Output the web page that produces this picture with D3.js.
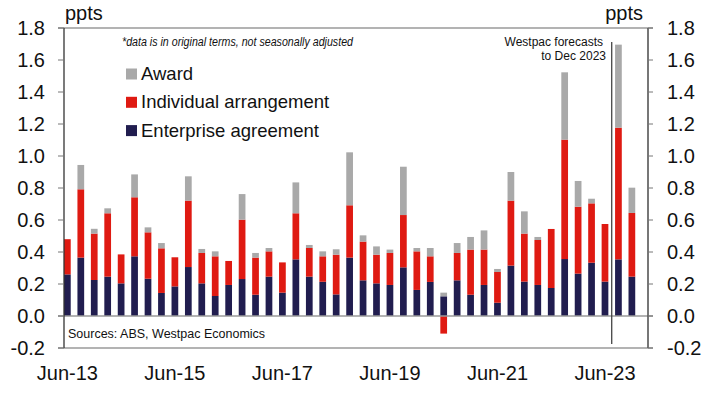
<!DOCTYPE html>
<html>
<head>
<meta charset="utf-8">
<script src="https://cdn.jsdelivr.net/npm/d3@7"></script>
<style>
  body { margin: 0; background: #fff; }
  svg { display: block; font-family: "Liberation Sans", Arial, sans-serif; }
</style>
</head>
<body>
<div id="chart"></div>
<script>
// Datos ---------------------------------------------------------------------------------------
const quarters = [
  "Jun-13","Sep-13","Dec-13","Mar-14","Jun-14","Sep-14","Dec-14","Mar-15","Jun-15","Sep-15","Dec-15",
  "Mar-16","Jun-16","Sep-16","Dec-16","Mar-17","Jun-17","Sep-17","Dec-17","Mar-18","Jun-18","Sep-18",
  "Dec-18","Mar-19","Jun-19","Sep-19","Dec-19","Mar-20","Jun-20","Sep-20","Dec-20","Mar-21","Jun-21",
  "Sep-21","Dec-21","Mar-22","Jun-22","Sep-22","Dec-22","Mar-23","Jun-23","Sep-23","Dec-23"
];
const enterprise = [0.26, 0.365, 0.225, 0.246, 0.204, 0.373, 0.233, 0.144, 0.185, 0.306, 0.204,
  0.125, 0.194, 0.231, 0.133, 0.246, 0.146, 0.354, 0.246, 0.214, 0.135, 0.365,
  0.223, 0.204, 0.194, 0.304, 0.163, 0.213, 0.123, 0.223, 0.133, 0.194, 0.083,
  0.315, 0.215, 0.194, 0.175, 0.356, 0.265, 0.333, 0.215, 0.354, 0.246];
const individual = [0.22, 0.427, 0.29, 0.396, 0.181, 0.369, 0.29, 0.279, 0.182, 0.415, 0.19,
  0.248, 0.15, 0.371, 0.232, 0.158, 0.189, 0.288, 0.179, 0.159, 0.248, 0.327,
  0.242, 0.179, 0.2, 0.327, 0.241, 0.16, -0.11, 0.171, 0.282, 0.221, 0.192,
  0.406, 0.3, 0.281, 0.369, 0.746, 0.418, 0.371, 0.36, 0.823, 0.398];
const award = [0, 0.152, 0.03, 0.031, 0, 0.143, 0.031, 0.033, 0, 0.152, 0.025,
  0.031, 0, 0.16, 0.029, 0.021, 0, 0.193, 0.019, 0.031, 0.034, 0.331,
  0.039, 0.052, 0.021, 0.302, 0.021, 0.052, 0.023, 0.062, 0.079, 0.12, 0.019,
  0.179, 0.139, 0.019, 0, 0.421, 0.161, 0.029, 0, 0.519, 0.158];
const seriesNames = ["Enterprise agreement", "Individual arrangement", "Award"];
const seriesColors = ["#211d4f", "#df1a12", "#a9a9a9"];
const xTickLabels = ["Jun-13", "Jun-15", "Jun-17", "Jun-19", "Jun-21", "Jun-23"];
const yTicks = [-0.2, 0, 0.2, 0.4, 0.6, 0.8, 1.0, 1.2, 1.4, 1.6, 1.8];
const forecastStart = "Sep-23";

// Dimensiones ---------------------------------------------------------------------------------
const WIDTH = 711;
const HEIGHT = 394;
const LEFT = 64;
const RIGHT = 648;
const TOP = 28;
const BOTTOM = 348;

const SVG = d3.select("#chart").append("svg").attr("width", WIDTH).attr("height", HEIGHT);

const x = d3.scaleLinear().domain([-0.25, quarters.length + 0.2]).range([LEFT, RIGHT]);
const y = d3.scaleLinear().domain([-0.2, 1.8]).range([BOTTOM, TOP]);
const barW = (x(1) - x(0)) * 0.5;
const fmt = d => d3.format(".1f")(d).replace("−", "-");

// Tabla para el stack
const tabla = quarters.map((q, i) => ({
  q: q, i: i,
  "Enterprise agreement": enterprise[i],
  "Individual arrangement": individual[i],
  "Award": award[i]
}));
const stack = d3.stack().keys(seriesNames).offset(d3.stackOffsetDiverging)(tabla);

// Barras
SVG.selectAll("g.serie")
  .data(stack)
  .enter()
  .append("g")
  .attr("class", "serie")
  .attr("fill", (d, k) => seriesColors[k])
  .selectAll("rect")
  .data(d => d)
  .enter()
  .append("rect")
  .attr("x", d => Math.max(LEFT, x(d.data.i) - barW / 2))
  .attr("width", d => x(d.data.i) + barW / 2 - Math.max(LEFT, x(d.data.i) - barW / 2))
  .attr("y", d => y(Math.max(d[0], d[1])))
  .attr("height", d => Math.abs(y(d[0]) - y(d[1])));

// Lineas horizontales (borde superior, cero, borde inferior)
SVG.selectAll("line.hline")
  .data([1.8, 0, -0.2])
  .enter()
  .append("line")
  .attr("class", "hline")
  .attr("x1", LEFT - 6).attr("x2", RIGHT + 5)
  .attr("y1", d => y(d)).attr("y2", d => y(d))
  .attr("stroke", "#9a9a9a").attr("stroke-width", 1.5);

// Ejes verticales y ticks
SVG.append("line").attr("x1", LEFT).attr("x2", LEFT).attr("y1", TOP).attr("y2", BOTTOM)
  .attr("stroke", "#333").attr("stroke-width", 1.3);
SVG.append("line").attr("x1", RIGHT).attr("x2", RIGHT).attr("y1", TOP).attr("y2", BOTTOM)
  .attr("stroke", "#555").attr("stroke-width", 1.6);

SVG.selectAll("line.tickL")
  .data(yTicks)
  .enter()
  .append("line")
  .attr("class", "tickL")
  .attr("x1", LEFT - 6).attr("x2", LEFT)
  .attr("y1", d => y(d)).attr("y2", d => y(d))
  .attr("stroke", "#777");
SVG.selectAll("line.tickR")
  .data(yTicks)
  .enter()
  .append("line")
  .attr("class", "tickR")
  .attr("x1", RIGHT).attr("x2", RIGHT + 5)
  .attr("y1", d => y(d)).attr("y2", d => y(d))
  .attr("stroke", "#777");

// Etiquetas eje y
SVG.selectAll("text.yL")
  .data(yTicks)
  .enter()
  .append("text")
  .attr("class", "yL")
  .attr("x", 45)
  .attr("y", d => y(d) + 7)
  .attr("text-anchor", "end")
  .attr("font-size", "20px")
  .attr("fill", "#111")
  .text(fmt);
SVG.selectAll("text.yR")
  .data(yTicks)
  .enter()
  .append("text")
  .attr("class", "yR")
  .attr("x", 667)
  .attr("y", d => y(d) + 7)
  .attr("font-size", "20px")
  .attr("fill", "#111")
  .text(fmt);

// Etiquetas eje x
SVG.selectAll("text.xlab")
  .data(xTickLabels)
  .enter()
  .append("text")
  .attr("class", "xlab")
  .attr("x", d => x(quarters.indexOf(d)))
  .attr("y", 380)
  .attr("text-anchor", "middle")
  .attr("font-size", "20px")
  .attr("fill", "#111")
  .text(d => d);

// Unidades
SVG.append("text").attr("x", 65).attr("y", 20).attr("font-size", "20px").attr("fill", "#111").text("ppts");
SVG.append("text").attr("x", 643).attr("y", 20).attr("text-anchor", "end").attr("font-size", "20px").attr("fill", "#111").text("ppts");

// Notas
SVG.append("text").attr("x", 122).attr("y", 46).attr("font-size", "12px").attr("font-style", "italic")
  .attr("textLength", 231).attr("lengthAdjust", "spacingAndGlyphs")
  .attr("fill", "#111").text("*data is in original terms, not seasonally adjusted");
SVG.append("text").attr("x", 68).attr("y", 338).attr("font-size", "12.5px")
  .attr("fill", "#111").text("Sources: ABS, Westpac Economics");

// Linea de pronostico
const xf = (x(quarters.indexOf(forecastStart)) + x(quarters.indexOf(forecastStart) - 1)) / 2;
SVG.append("line").attr("x1", xf).attr("x2", xf).attr("y1", 42).attr("y2", 344)
  .attr("stroke", "#444").attr("stroke-width", 1.3);
SVG.append("text").attr("x", 603).attr("y", 46).attr("text-anchor", "end").attr("font-size", "12px")
  .attr("fill", "#111").text("Westpac forecasts");
SVG.append("text").attr("x", 606).attr("y", 60).attr("text-anchor", "end").attr("font-size", "12px")
  .attr("fill", "#111").text("to Dec 2023");

// Leyenda (orden invertido: Award arriba)
const leyenda = seriesNames.map((n, k) => ({ n: n, c: seriesColors[k] })).reverse();
const lg = SVG.selectAll("g.ley")
  .data(leyenda)
  .enter()
  .append("g")
  .attr("class", "ley")
  .attr("transform", (d, i) => `translate(126, ${80 + i * 28.3})`);
lg.append("rect").attr("x", 0).attr("y", -11.5).attr("width", 11).attr("height", 11).attr("fill", d => d.c);
lg.append("text").attr("x", 15).attr("y", 0).attr("font-size", "18.5px").attr("fill", "#111").text(d => d.n);
</script>
</body>
</html>
